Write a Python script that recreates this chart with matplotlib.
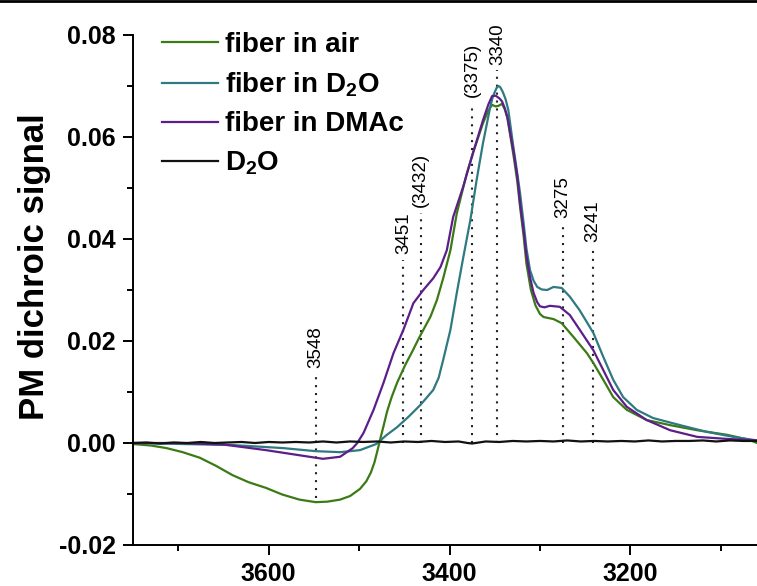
import numpy as np
import matplotlib
matplotlib.use("Agg")
import matplotlib.pyplot as plt
from matplotlib.lines import Line2D
from matplotlib.ticker import MultipleLocator

plt.rcParams['font.family'] = ['Liberation Sans', 'DejaVu Sans']
plt.rcParams['mathtext.fontset'] = 'custom'
plt.rcParams['mathtext.rm'] = 'Liberation Sans'
plt.rcParams['mathtext.bf'] = 'Liberation Sans:bold'
plt.rcParams['mathtext.default'] = 'bf'

# --- data (wavenumber in cm-1, PM dichroic signal) ---
air_x = [3750, 3730, 3713, 3695, 3676, 3658, 3640, 3622, 3603, 3585, 3566, 3548, 3535,
         3521, 3510, 3499, 3492, 3487, 3483, 3479, 3476, 3473, 3469, 3464, 3458, 3449,
         3441, 3434, 3428, 3421, 3414, 3407, 3399, 3392, 3381, 3374, 3363, 3357, 3353,
         3349, 3346, 3342, 3339, 3336, 3329, 3325, 3322, 3318, 3315, 3310, 3305, 3300,
         3296, 3285, 3276, 3263, 3248, 3241, 3230, 3219, 3204, 3182, 3156, 3126, 3093,
         3068, 3060]
air_y = [-0.0002, -0.0005, -0.0010, -0.0018, -0.0029, -0.0045, -0.0063, -0.0077, -0.0088,
         -0.0101, -0.0111, -0.0116, -0.0115, -0.0111, -0.0104, -0.0090, -0.0075, -0.0058,
         -0.0038, -0.0010, 0.0012, 0.0033, 0.0062, 0.0090, 0.0118, 0.0153, 0.0180, 0.0205,
         0.0225, 0.0248, 0.0280, 0.0323, 0.0378, 0.0450, 0.0528, 0.0569, 0.0627, 0.0652,
         0.0663, 0.0660, 0.0661, 0.0665, 0.0655, 0.0637, 0.0561, 0.0512, 0.0463, 0.0405,
         0.0352, 0.0300, 0.0270, 0.0253, 0.0247, 0.0243, 0.0235, 0.0208, 0.0176, 0.0157,
         0.0124, 0.0090, 0.0065, 0.0045, 0.0035, 0.0025, 0.0016, 0.0006, 0.0000]

d2o_fib_x = [3750, 3640, 3584, 3548, 3521, 3499, 3481, 3470, 3458, 3445, 3432, 3418, 3412,
             3407, 3399, 3392, 3385, 3377, 3370, 3363, 3358, 3355, 3352, 3348, 3346, 3344,
             3341, 3338, 3335, 3330, 3326, 3322, 3318, 3315, 3311, 3307, 3303, 3298, 3292,
             3285, 3276, 3267, 3256, 3241, 3230, 3219, 3208, 3193, 3175, 3145, 3116, 3086,
             3060]
d2o_fib_y = [0.0000, -0.0004, -0.0010, -0.0016, -0.0018, -0.0014, -0.0002, 0.0015, 0.0031,
             0.0052, 0.0075, 0.0104, 0.0128, 0.0163, 0.0222, 0.0294, 0.0362, 0.0437, 0.0516,
             0.0588, 0.0632, 0.0659, 0.0680, 0.0696, 0.0700, 0.0698, 0.0688, 0.0674, 0.0653,
             0.0588, 0.0540, 0.0490, 0.0430, 0.0382, 0.0339, 0.0318, 0.0306, 0.0301, 0.0300,
             0.0306, 0.0304, 0.0287, 0.0260, 0.0216, 0.0169, 0.0124, 0.0090, 0.0065, 0.0049,
             0.0035, 0.0022, 0.0012, 0.0005]

dmac_x = [3750, 3700, 3650, 3603, 3566, 3540, 3521, 3507, 3502, 3495, 3484, 3473, 3462,
          3451, 3440, 3429, 3418, 3410, 3403, 3396, 3385, 3374, 3363, 3357, 3353, 3349,
          3345, 3342, 3339, 3336, 3329, 3325, 3322, 3318, 3315, 3311, 3307, 3303, 3300,
          3295, 3289, 3278, 3267, 3256, 3241, 3230, 3219, 3204, 3182, 3156, 3126, 3093,
          3060]
dmac_y = [0.0000, 0.0000, -0.0003, -0.0014, -0.0024, -0.0031, -0.0027, -0.0010, 0.0000,
          0.0020, 0.0065, 0.0118, 0.0176, 0.0222, 0.0274, 0.0300, 0.0323, 0.0345, 0.0378,
          0.0443, 0.0502, 0.0569, 0.0633, 0.0664, 0.0680, 0.0681, 0.0676, 0.0670, 0.0657,
          0.0639, 0.0569, 0.0522, 0.0470, 0.0415, 0.0368, 0.0325, 0.0294, 0.0276, 0.0268,
          0.0266, 0.0269, 0.0267, 0.0251, 0.0222, 0.0182, 0.0143, 0.0104, 0.0071, 0.0045,
          0.0025, 0.0012, 0.0008, 0.0005]

d2o_x = [3750, 3735, 3720, 3705, 3690, 3675, 3660, 3645, 3630, 3615, 3600, 3585, 3570,
         3555, 3540, 3525, 3510, 3495, 3480, 3465, 3450, 3435, 3420, 3405, 3390, 3380,
         3375, 3360, 3345, 3330, 3315, 3300, 3285, 3270, 3255, 3240, 3225, 3210, 3195,
         3180, 3165, 3150, 3135, 3120, 3105, 3090, 3075, 3060]
d2o_y = [0.0000, 0.0001, -0.0001, 0.0001, 0.0000, 0.0002, 0.0000, 0.0001, 0.0002, 0.0000,
         0.0002, 0.0001, 0.0002, 0.0001, 0.0003, 0.0001, 0.0003, 0.0002, 0.0003, 0.0001,
         0.0003, 0.0002, 0.0004, 0.0002, 0.0003, 0.0000, -0.0001, 0.0003, 0.0002, 0.0004,
         0.0003, 0.0004, 0.0003, 0.0005, 0.0003, 0.0004, 0.0003, 0.0004, 0.0003, 0.0005,
         0.0003, 0.0004, 0.0004, 0.0005, 0.0003, 0.0005, 0.0004, 0.0004]

# peak marks: label text, x of the dotted line, top and bottom of the line
peak_labels = ['3548', '3451', '(3432)', '(3375)', '3340', '3275', '3241']
peak_x = [3548, 3451, 3432, 3375, 3347, 3275, 3241]
peak_top = [0.0137, 0.0359, 0.0451, 0.0667, 0.0731, 0.0431, 0.0384]
peak_bottom = [-0.0108, 0, 0, 0, 0, 0, 0]

fig = plt.figure(figsize=(7.57, 5.86), dpi=100)
ax = fig.add_axes([133/757, 41/586, 624/757, 510/586])

ax.plot(air_x, air_y, color='#3b7a14', lw=1.6, label='fiber in air')
ax.plot(d2o_fib_x, d2o_fib_y, color='#2e7a80', lw=1.6, label='fiber in D$_2$O')
ax.plot(dmac_x, dmac_y, color='#5c1f8a', lw=1.6, label='fiber in DMAc')
ax.plot(d2o_x, d2o_y, color='#111111', lw=1.6, label='D$_2$O')

for lab, px, top, bot in zip(peak_labels, peak_x, peak_top, peak_bottom):
    ax.plot([px, px], [bot, top], color='#222222', lw=1.5, dashes=(1, 2.8), zorder=1)
    ax.annotate(lab, (px, top), xytext=(0, 4), textcoords='offset points',
                rotation=90, ha='center', va='bottom', fontsize=13.5)

ax.set_xlim(3750, 3060)
ax.set_ylim(-0.02, 0.08)
ax.xaxis.set_major_locator(MultipleLocator(200))
ax.xaxis.set_minor_locator(MultipleLocator(100))
ax.yaxis.set_major_locator(MultipleLocator(0.02))
ax.yaxis.set_minor_locator(MultipleLocator(0.01))
ax.yaxis.set_major_formatter(plt.FormatStrFormatter('%.2f'))

for s in ['top', 'right']:
    ax.spines[s].set_visible(False)
for s in ['left', 'bottom']:
    ax.spines[s].set_linewidth(1.4)
ax.tick_params(which='major', length=7.5, width=1.4, labelsize=18, pad=5)
ax.tick_params(which='minor', length=4, width=1.4)
for t in ax.get_xticklabels() + ax.get_yticklabels():
    t.set_fontweight('bold')

fig.text(0.046, 1 - 267/586, 'PM dichroic signal', rotation=90, ha='center',
         va='center', fontsize=25, fontweight='bold')

leg = ax.legend(loc='upper left', bbox_to_anchor=(0.0465, 1.006), frameon=False,
                borderpad=0, borderaxespad=0, handlelength=2.0, handletextpad=0.25,
                labelspacing=0.45, prop={'size': 20, 'weight': 'bold'})

fig.add_artist(Line2D([0, 1], [0.998, 0.998], transform=fig.transFigure,
                      color='black', lw=2))

fig.savefig('out.png', dpi=100)
